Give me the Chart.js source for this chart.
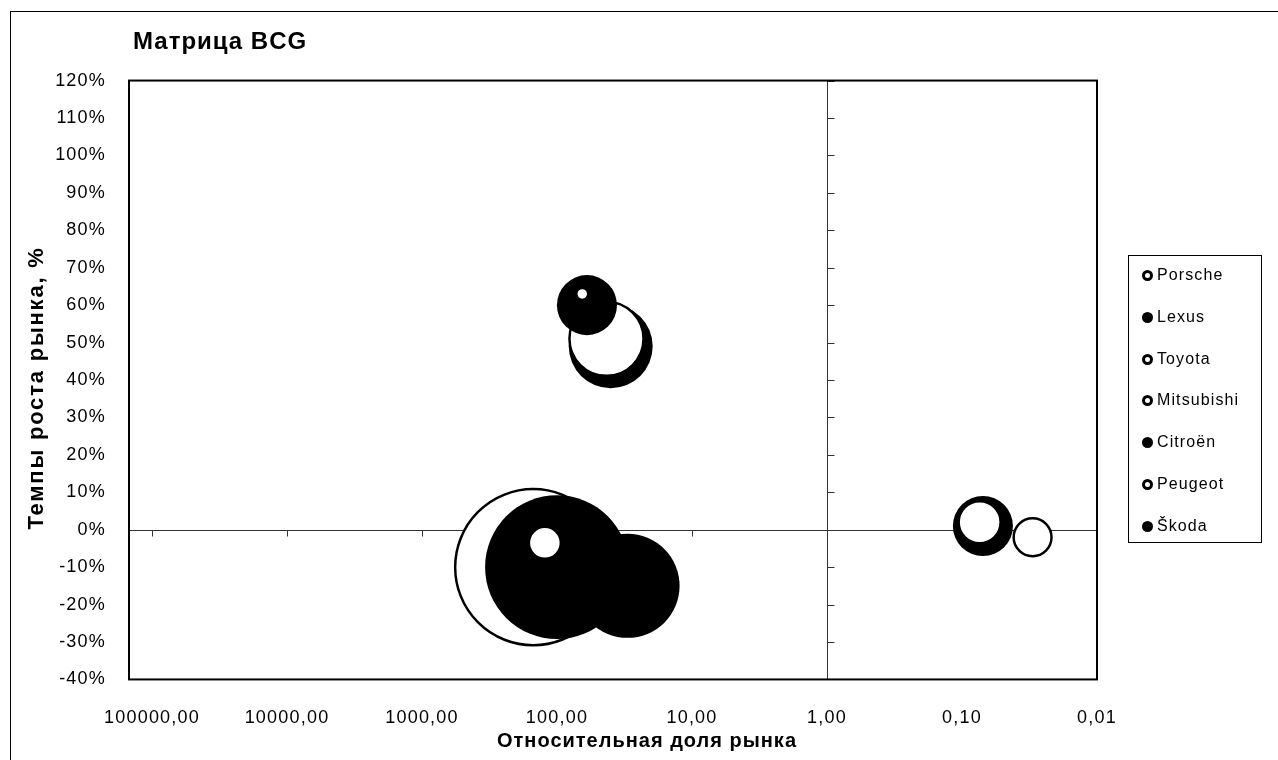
<!DOCTYPE html>
<html>
<head>
<meta charset="utf-8">
<script src="https://cdn.jsdelivr.net/npm/chart.js@4/dist/chart.umd.min.js"></script>
<style>
html, body { margin: 0; padding: 0; background: #fff; overflow: hidden; }
#wrap { position: relative; width: 1278px; height: 760px; }
#legend { position: absolute; left: 1128px; top: 255px; width: 132px; height: 286px;
  border: 1px solid #000; font: 16px "Liberation Sans", Arial, sans-serif; color: #000;
  letter-spacing: 1.1px; }
#legend .item { position: absolute; left: 13px; height: 20px; line-height: 20px; white-space: nowrap; }
#legend .mark { display: inline-block; width: 11px; height: 11px; border-radius: 50%;
  box-sizing: border-box; vertical-align: -1px; margin-right: 4px; }
</style>
</head>
<body>
<div id="wrap">
  <canvas id="bcg" width="1278" height="760"></canvas>
  <div id="legend"></div>
</div>
<script>
// companies (legend order)
const companies = ['Porsche', 'Lexus', 'Toyota', 'Mitsubishi', 'Citroën', 'Peugeot', 'Škoda'];
// relative market share (x), market growth % (y), sales volume (bubble size)
const relShare = [[43, 0.074], [60], [150], [65, 123], [100], [0.03], [30, 40, 0.07]];
const growth   = [[51, 2], [60], [-10], [63, -3.5], [-10], [-2], [-15, 49, 1]];
const volume   = [[134, 43], [88], [595], [3.5, 25], [505], [35], [264, 172, 88]];
// axis ticks
const xTicks = [100000, 10000, 1000, 100, 10, 1, 0.1, 0.01];
const yTicks = [-40, -30, -20, -10, 0, 10, 20, 30, 40, 50, 60, 70, 80, 90, 100, 110, 120];

const solid = [false, true, false, false, true, false, true];
const drawOrder = [4, 2, 6, 1, 3, 0, 5]; // higher = drawn first
const K = 3.2; // px per sqrt(volume)

const FONT = '"Liberation Sans", Arial, sans-serif';

const datasets = companies.map((name, i) => ({
  label: name,
  order: drawOrder[i],
  data: relShare[i].map((x, j) => ({ x: x, y: growth[i][j], r: K * Math.sqrt(volume[i][j]) })),
  backgroundColor: solid[i] ? '#000' : '#fff',
  borderColor: '#000',
  borderWidth: solid[i] ? 0 : 2.5,
  hoverRadius: 0
}));

// crossing axes, frame, titles
const bcgDecor = {
  id: 'bcgDecor',
  beforeDraw(chart) {
    chart.ctx.letterSpacing = '1.2px';
  },
  beforeDatasetsDraw(chart) {
    const { ctx, chartArea: a, scales: { x, y } } = chart;
    const x0 = Math.round(x.getPixelForValue(1)) + 0.5;
    const y0 = Math.round(y.getPixelForValue(0)) + 0.5;
    ctx.save();
    ctx.strokeStyle = '#333';
    ctx.lineWidth = 1;
    ctx.beginPath();
    ctx.moveTo(a.left, y0); ctx.lineTo(a.right, y0);
    ctx.moveTo(x0, a.top); ctx.lineTo(x0, a.bottom);
    xTicks.forEach(v => {
      const px = Math.round(x.getPixelForValue(v)) + 0.5;
      ctx.moveTo(px, y0); ctx.lineTo(px, y0 + 6);
    });
    yTicks.forEach(v => {
      const py = Math.round(y.getPixelForValue(v)) + 0.5;
      ctx.moveTo(x0, py); ctx.lineTo(x0 + 7, py);
    });
    ctx.stroke();
    ctx.restore();
  },
  afterDraw(chart) {
    const { ctx, chartArea: a } = chart;
    ctx.save();
    ctx.strokeStyle = '#000';
    ctx.lineWidth = 2;
    ctx.strokeRect(a.left, a.top, a.right - a.left, a.bottom - a.top);
    ctx.lineWidth = 1;
    ctx.strokeRect(10.5, 11.5, 1400, 1000);

    ctx.fillStyle = '#000';
    ctx.font = 'bold 24px ' + FONT;
    ctx.letterSpacing = '1px';
    ctx.textAlign = 'left';
    ctx.textBaseline = 'middle';
    ctx.fillText('Матрица BCG', 133, 42);

    ctx.font = 'bold 20px ' + FONT;
    ctx.letterSpacing = '1px';
    ctx.textAlign = 'center';
    ctx.fillText('Относительная доля рынка', 647, 741);

    ctx.font = 'bold 22px ' + FONT;
    ctx.letterSpacing = '1.8px';
    ctx.translate(37, 388);
    ctx.rotate(-Math.PI / 2);
    ctx.fillText('Темпы роста рынка, %', 0, 0);
    ctx.restore();
  }
};

new Chart(document.getElementById('bcg'), {
  type: 'bubble',
  data: { datasets: datasets },
  options: {
    responsive: false,
    animation: false,
    events: [],
    layout: { padding: { left: 0, top: 78, right: 181, bottom: 0 } },
    plugins: { legend: { display: false }, tooltip: { enabled: false } },
    scales: {
      x: {
        type: 'logarithmic',
        reverse: true,
        min: 0.01,
        max: Math.pow(10, 5 + 23 / 135),
        grid: { display: false, drawTicks: false },
        border: { display: false },
        afterBuildTicks: s => { s.ticks = xTicks.map(v => ({ value: v })); },
        afterFit: s => { s.height = 80; },
        ticks: {
          autoSkip: false, maxRotation: 0, padding: 28,
          color: '#000', font: { family: FONT, size: 18 },
          callback: v => Number(v).toFixed(2).replace('.', ',')
        }
      },
      y: {
        min: -40,
        max: 120,
        grid: { display: false, drawTicks: false },
        border: { display: false },
        afterBuildTicks: s => { s.ticks = yTicks.map(v => ({ value: v })); },
        afterFit: s => { s.width = 129; },
        ticks: {
          padding: 23, color: '#000', font: { family: FONT, size: 18 },
          callback: v => v + '%'
        }
      }
    }
  },
  plugins: [bcgDecor]
});

// legend
const leg = document.getElementById('legend');
companies.forEach((name, i) => {
  const it = document.createElement('div');
  it.className = 'item';
  it.style.top = Math.round(9 + i * 41.8) + 'px';
  const m = document.createElement('span');
  m.className = 'mark';
  m.style.background = solid[i] ? '#000' : '#fff';
  m.style.border = solid[i] ? 'none' : '3px solid #000';
  it.appendChild(m);
  it.appendChild(document.createTextNode(name));
  leg.appendChild(it);
});
</script>
</body>
</html>
